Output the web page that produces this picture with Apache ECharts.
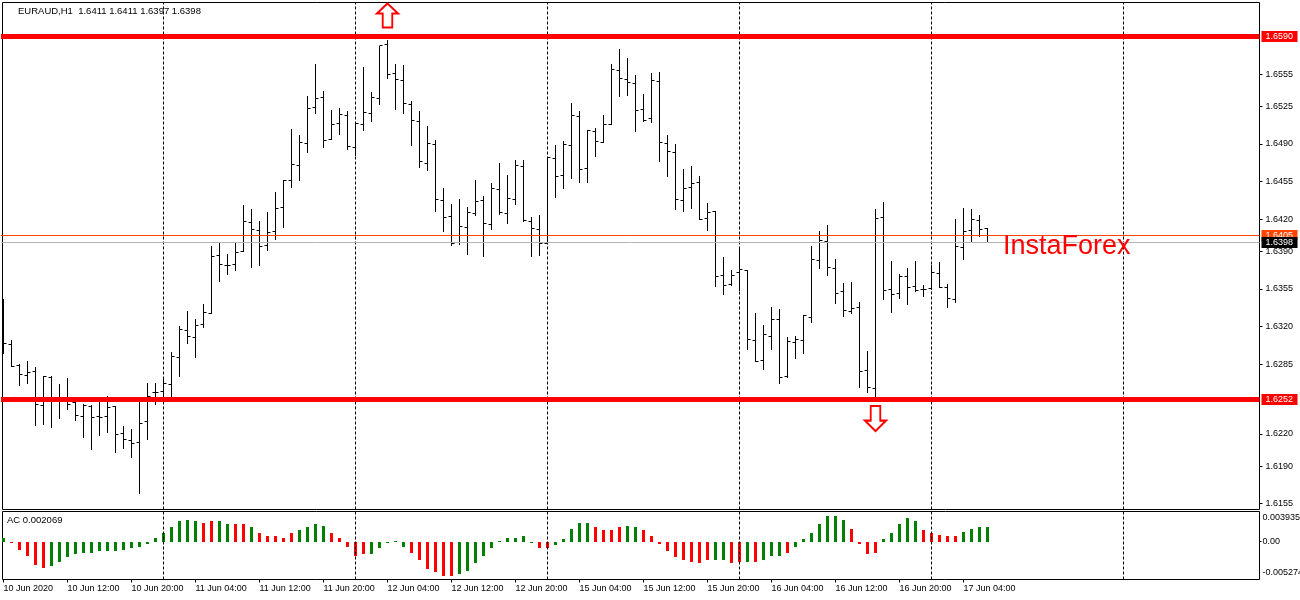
<!DOCTYPE html>
<html>
<head>
<meta charset="utf-8">
<style>html,body{margin:0;padding:0;background:#fff}#c{width:1300px;height:600px}</style>
<script src="https://cdn.jsdelivr.net/npm/echarts@6/dist/echarts.min.js"></script>
</head>
<body>
<div id="c"></div>
<script>
const opens = [1.63258,1.63035,1.62836,1.62746,1.62780,1.62464,1.62724,1.62519,1.62519,1.62488,1.62361,1.62457,1.62358,1.62358,1.62457,1.62203,1.62138,1.62116,1.62311,1.62581,1.62594,1.62659,1.62910,1.63162,1.63097,1.63221,1.63320,1.63860,1.63767,1.63776,1.63898,1.64171,1.64093,1.63954,1.64084,1.64307,1.64559,1.64702,1.64903,1.65239,1.65335,1.64937,1.65090,1.65167,1.64869,1.65080,1.65183,1.65322,1.65825,1.65555,1.65490,1.65266,1.65108,1.64717,1.64894,1.64372,1.64224,1.63978,1.64121,1.64251,1.64372,1.64149,1.64475,1.64251,1.64382,1.64692,1.64177,1.64102,1.63972,1.64764,1.64605,1.64885,1.65158,1.64670,1.65015,1.64913,1.65083,1.65586,1.65499,1.65462,1.65220,1.65136,1.65484,1.64903,1.64820,1.64372,1.64494,1.64540,1.64205,1.64270,1.63674,1.63590,1.63702,1.63724,1.63069,1.62880,1.63109,1.63267,1.62731,1.63050,1.63069,1.63286,1.63817,1.63991,1.63739,1.63525,1.63336,1.63379,1.62790,1.62625,1.64214,1.63547,1.63507,1.63665,1.63572,1.63544,1.63553,1.63693,1.63562,1.63451,1.63935,1.64093,1.64186,1.64115];
const highs = [1.63454,1.63072,1.62855,1.62876,1.62821,1.62737,1.62737,1.62662,1.62724,1.62498,1.62482,1.62467,1.62498,1.62550,1.62457,1.62271,1.62243,1.62498,1.62671,1.62671,1.62715,1.62960,1.63202,1.63342,1.63267,1.63407,1.63953,1.63991,1.63873,1.63984,1.64329,1.64292,1.64180,1.64264,1.64450,1.64568,1.65037,1.64981,1.65344,1.65642,1.65391,1.65214,1.65232,1.65211,1.65108,1.65614,1.65381,1.65816,1.65872,1.65648,1.65633,1.65297,1.65204,1.65065,1.64934,1.64487,1.64338,1.64385,1.64310,1.64562,1.64413,1.64534,1.64720,1.64608,1.64748,1.64748,1.64217,1.64236,1.64773,1.64888,1.64925,1.65279,1.65204,1.65034,1.65046,1.65167,1.65642,1.65782,1.65698,1.65540,1.65363,1.65558,1.65568,1.64981,1.64897,1.64664,1.64692,1.64599,1.64348,1.64273,1.63845,1.63724,1.63929,1.63724,1.63323,1.63212,1.63379,1.63361,1.63100,1.63109,1.63311,1.63947,1.64087,1.64143,1.63826,1.63603,1.63612,1.63426,1.62970,1.64292,1.64357,1.63808,1.63686,1.63742,1.63808,1.63584,1.63770,1.63798,1.63600,1.64199,1.64301,1.64292,1.64236,1.64115];
const lows = [1.62948,1.62824,1.62647,1.62662,1.62274,1.62283,1.62256,1.62336,1.62423,1.62321,1.62162,1.62051,1.62181,1.62209,1.62023,1.62060,1.61976,1.61641,1.62144,1.62470,1.62498,1.62538,1.62727,1.63038,1.62907,1.63184,1.63320,1.63615,1.63680,1.63718,1.63898,1.63746,1.63764,1.63904,1.64006,1.64115,1.64490,1.64556,1.64816,1.65180,1.64863,1.64937,1.64984,1.64844,1.64792,1.65021,1.65105,1.65263,1.65505,1.65217,1.65180,1.64882,1.64677,1.64649,1.64267,1.64081,1.63950,1.63960,1.63866,1.64230,1.63848,1.64099,1.64239,1.64155,1.64332,1.64177,1.63848,1.63857,1.63966,1.64397,1.64481,1.64574,1.64537,1.64537,1.64779,1.64913,1.65077,1.65338,1.65347,1.65012,1.65108,1.65096,1.64733,1.64593,1.64286,1.64267,1.64295,1.64196,1.64090,1.63569,1.63494,1.63578,1.63531,1.62979,1.62870,1.62796,1.62979,1.62665,1.62724,1.62898,1.62945,1.63233,1.63736,1.63671,1.63410,1.63289,1.63320,1.62628,1.62581,1.62544,1.63448,1.63326,1.63457,1.63401,1.63522,1.63475,1.63538,1.63562,1.63373,1.63420,1.63820,1.63984,1.64034,1.63975];
const closes = [1.63041,1.62824,1.62752,1.62771,1.62473,1.62731,1.62519,1.62519,1.62476,1.62370,1.62467,1.62352,1.62352,1.62445,1.62194,1.62147,1.62110,1.62296,1.62544,1.62581,1.62668,1.62923,1.63174,1.63106,1.63208,1.63326,1.63854,1.63776,1.63767,1.63888,1.64177,1.64102,1.63944,1.64078,1.64301,1.64559,1.64708,1.64913,1.65232,1.65322,1.64931,1.65083,1.65173,1.64875,1.65090,1.65192,1.65332,1.65816,1.65549,1.65499,1.65276,1.65121,1.64736,1.64903,1.64382,1.64214,1.63969,1.64130,1.64261,1.64363,1.64158,1.64484,1.64261,1.64391,1.64702,1.64189,1.64112,1.63972,1.64773,1.64596,1.64894,1.65167,1.64661,1.65024,1.64922,1.65083,1.65596,1.65509,1.65471,1.65214,1.65118,1.65493,1.64913,1.64829,1.64382,1.64484,1.64531,1.64196,1.64261,1.63665,1.63581,1.63674,1.63730,1.63075,1.62873,1.63125,1.63261,1.62724,1.63056,1.63075,1.63302,1.63826,1.64000,1.63749,1.63507,1.63348,1.63367,1.62780,1.62631,1.64205,1.63538,1.63500,1.63665,1.63562,1.63531,1.63544,1.63702,1.63562,1.63457,1.63944,1.64084,1.64196,1.64106,1.63981];
const acValues = [61,-5,-123,-215,-353,-399,-368,-307,-245,-199,-169,-169,-153,-153,-153,-123,-92,-77,-31,61,123,215,307,337,307,291,307,307,276,276,276,215,138,92,92,61,123,169,215,276,245,138,61,-77,-215,-199,-184,-107,-10,5,-77,-169,-291,-414,-475,-527,-527,-491,-445,-322,-215,-92,10,61,61,92,-10,-92,-92,-61,31,199,291,291,230,184,169,215,245,230,169,92,-31,-153,-230,-276,-307,-322,-291,-276,-291,-322,-307,-307,-307,-276,-215,-215,-169,-77,31,123,261,384,393,337,199,-31,-199,-169,31,123,261,368,322,184,138,107,77,92,153,199,215,230].map(v => v / 100000);
const acTrend = "grrrrrgggggggggggggggggggrrggrrgrrrrrggggrrrrrgggggrrrrrrggggggggggrrgggggrrrrggrrrrrrrrrggrrgrgggrgggggggrrrrgggggrrrrrggggg";
const timeTicks = [0,8,16,24,32,40,48,56,64,72,80,88,96,104,112,120];
const timeLabels = ["10 Jun 2020","10 Jun 12:00","10 Jun 20:00","11 Jun 04:00","11 Jun 12:00","11 Jun 20:00","12 Jun 04:00","12 Jun 12:00","12 Jun 20:00","15 Jun 04:00","15 Jun 12:00","15 Jun 20:00","16 Jun 04:00","16 Jun 12:00","16 Jun 20:00","17 Jun 04:00"];
const dayBreaks = [20,44,68,92,116,140];
const priceTicks = [1.6555,1.6525,1.6490,1.6455,1.6420,1.6390,1.6355,1.6320,1.6285,1.6220,1.6190,1.6155];
const acTicks = [0.003935,0,-0.00527];
const acTickText = ["0.003935","0.00","-0.005274"];
const levelPrices = [1.6405,1.6398,1.6590,1.6252];
const arrowUp = [48,1.66096];
const arrowDown = [109,1.62343];

const FONT = '"Liberation Sans", Arial, sans-serif';
const GREEN = '#008000', RED = '#ff0000';
const levelStyles = [
  { line: '#ff4500', tag: '#ff4500', width: 1 },
  { line: '#b4b4b4', tag: '#000000', width: 1 },
  { line: RED, tag: RED, width: 5 },
  { line: RED, tag: RED, width: 5 }
];

const ohlc = opens.map((o, i) => [i, o, highs[i], lows[i], closes[i]]);
const acData = acValues.map((v, i) => [i, v]);
const levelData = levelPrices.map((p, i) => [i, p]);

function renderOhlc(params, api) {
  const i = api.value(0);
  const x = api.coord([i, api.value(1)])[0];
  const snap = y => Math.round(y - 0.5) + 0.5;
  const yo = snap(api.coord([i, api.value(1)])[1]);
  const yh = api.coord([i, api.value(2)])[1];
  const yl = api.coord([i, api.value(3)])[1];
  const yc = snap(api.coord([i, api.value(4)])[1]);
  const style = { stroke: '#000', lineWidth: 1, fill: null };
  return {
    type: 'group',
    children: [
      { type: 'line', shape: { x1: x, y1: Math.round(yh), x2: x, y2: Math.round(yl) }, style },
      { type: 'line', shape: { x1: x - 3, y1: yo, x2: x, y2: yo }, style },
      { type: 'line', shape: { x1: x, y1: yc, x2: x + 3, y2: yc }, style }
    ]
  };
}

function renderAc(params, api) {
  const i = api.value(0);
  const p0 = api.coord([i, 0]);
  const p1 = api.coord([i, api.value(1)]);
  const y0 = Math.round(p0[1]);
  const y1 = Math.round(p1[1]);
  const h = Math.max(Math.abs(y1 - y0), 1);
  return {
    type: 'rect',
    shape: { x: p0[0] - 1.5, y: Math.min(y0, y1), width: 3, height: h },
    style: { fill: acTrend[i] === 'g' ? GREEN : RED }
  };
}

function renderLevel(params, api) {
  const s = levelStyles[api.value(0)];
  const price = api.value(1);
  const cs = params.coordSys;
  const y = Math.floor(api.coord([0, price])[1]) + 0.5;
  const right = cs.x + cs.width;
  return {
    type: 'group',
    children: [
      { type: 'line', shape: { x1: cs.x - 1.5, y1: y, x2: right, y2: y },
        style: { stroke: s.line, lineWidth: s.width, fill: null } },
      { type: 'rect', shape: { x: right + 2, y: y - 5.5, width: 36, height: 11 },
        style: { fill: s.tag } },
      { type: 'text', x: right + 6, y: y,
        style: { text: price.toFixed(4), fill: '#fff', font: '9px ' + FONT, align: 'left', verticalAlign: 'middle' } }
    ]
  };
}

const vLine = v => ({ xAxis: v, lineStyle: { color: '#000', width: 1, type: [3, 2] }, label: { show: false } });

const option = {
  animation: false,
  backgroundColor: '#fff',
  textStyle: { fontFamily: FONT },
  title: [
    { text: 'EURAUD,H1  1.6411 1.6411 1.6397 1.6398', left: 18, top: 6, padding: 0,
      textStyle: { fontFamily: FONT, fontSize: 9.5, fontWeight: 'normal', color: '#000' } },
    { text: 'AC 0.002069', left: 7, top: 515, padding: 0,
      textStyle: { fontFamily: FONT, fontSize: 9.5, fontWeight: 'normal', color: '#000' } }
  ],
  grid: [
    { left: 2.5, top: 2.5, width: 1257, height: 507, show: true, borderColor: '#000', borderWidth: 1, backgroundColor: '#fff', outerBoundsMode: 'none' },
    { left: 2.5, top: 511.5, width: 1257, height: 68, show: true, borderColor: '#000', borderWidth: 1, backgroundColor: '#fff', outerBoundsMode: 'none' }
  ],
  xAxis: [
    { type: 'value', gridIndex: 0, min: -0.125, max: 157,
      axisLine: { show: false, onZero: false }, axisTick: { show: false }, axisLabel: { show: false }, splitLine: { show: false } },
    { type: 'value', gridIndex: 1, min: -0.125, max: 157,
      axisLine: { show: false, onZero: false }, splitLine: { show: false },
      axisTick: { show: true, length: 3, customValues: timeTicks, lineStyle: { color: '#000' } },
      axisLabel: { show: true, customValues: timeTicks, align: 'left', margin: 5,
        fontFamily: FONT, fontSize: 9, color: '#000',
        formatter: v => timeLabels[timeTicks.indexOf(v)] } }
  ],
  yAxis: [
    { type: 'value', gridIndex: 0, position: 'right', min: 1.614959, max: 1.662166,
      axisLine: { show: false, onZero: false }, splitLine: { show: false },
      axisTick: { show: true, length: 3, customValues: priceTicks, lineStyle: { color: '#000' } },
      axisLabel: { show: true, customValues: priceTicks, margin: 6, fontFamily: FONT, fontSize: 9, color: '#000',
        formatter: v => v.toFixed(4) } },
    { type: 'value', gridIndex: 1, position: 'right', min: -0.005826, max: 0.0046,
      axisLine: { show: false, onZero: false }, splitLine: { show: false },
      axisTick: { show: true, length: 2, customValues: [0], lineStyle: { color: '#000' } },
      axisLabel: { show: true, customValues: acTicks, margin: 3, fontFamily: FONT, fontSize: 9, color: '#000',
        formatter: v => {
          const t = acTickText[acTicks.indexOf(v)];
          return v > 0 ? '{a|' + t + '}' : v < 0 ? '{b|' + t + '}' : t;
        },
        rich: { a: { padding: [4, 0, 0, 0] }, b: { padding: [0, 0, 6, 0] } } } }
  ],
  graphic: [
    { type: 'text', left: 1003, top: 233, silent: true, z: 10,
      style: { text: 'InstaForex', fill: RED, font: '27px ' + FONT } }
  ],
  series: [
    {
      name: 'EURAUD,H1', type: 'custom', xAxisIndex: 0, yAxisIndex: 0,
      data: ohlc, renderItem: renderOhlc, clip: true, silent: true,
      encode: { x: 0, y: [1, 2, 3, 4] },
      markLine: {
        silent: true, animation: false, symbol: ['none', 'none'], precision: 6,
        data: dayBreaks.map(vLine)
      }
    },
    {
      name: 'Levels', type: 'custom', xAxisIndex: 0, yAxisIndex: 0, z: 7, silent: true, clip: false,
      data: levelData, renderItem: renderLevel, encode: { x: 0, y: 1 }
    },
    {
      name: 'Arrows up', type: 'scatter', xAxisIndex: 0, yAxisIndex: 0, silent: true, z: 6,
      data: [arrowUp], symbol: 'path://M11,0 L22,10 L16,10 L16,24 L6,24 L6,10 L0,10 Z', symbolSize: [21, 24],
      itemStyle: { color: '#fff', borderColor: RED, borderWidth: 2, opacity: 1 }
    },
    {
      name: 'Arrows down', type: 'scatter', xAxisIndex: 0, yAxisIndex: 0, silent: true, z: 6,
      data: [arrowDown], symbol: 'path://M6,0 L16,0 L16,14 L22,14 L11,24 L0,14 L6,14 Z', symbolSize: [21, 25],
      itemStyle: { color: '#fff', borderColor: RED, borderWidth: 2, opacity: 1 }
    },
    {
      name: 'AC', type: 'custom', xAxisIndex: 1, yAxisIndex: 1, data: acData, renderItem: renderAc, silent: true,
      encode: { x: 0, y: 1 },
      markLine: { silent: true, animation: false, symbol: ['none', 'none'], precision: 6, data: dayBreaks.map(vLine) }
    }
  ]
};
const chart = echarts.init(document.getElementById('c'), null, { renderer: 'canvas', width: 1300, height: 600 });
chart.setOption(option);
</script>
</body>
</html>
